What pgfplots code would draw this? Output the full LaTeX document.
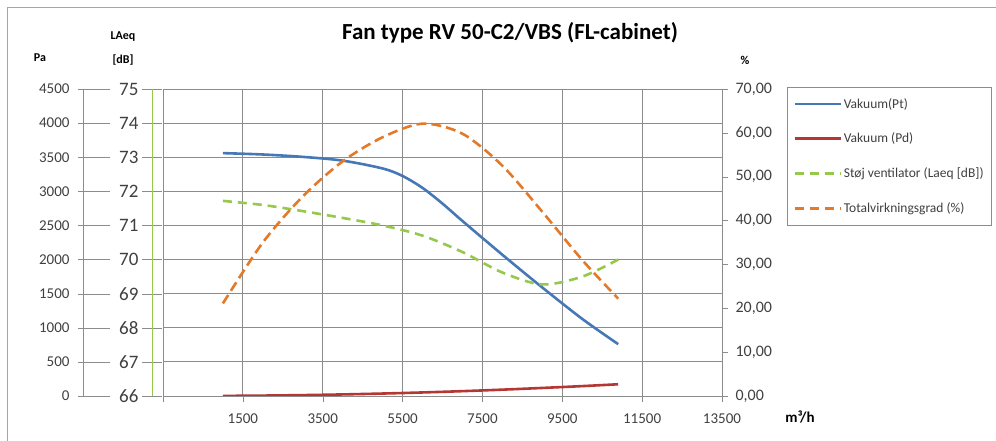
\documentclass[border=0pt]{standalone}
\usepackage{fontspec}
\setmainfont{Carlito}
\usepackage{pgfplots}
\pgfplotsset{compat=1.18}

\definecolor{xlblue}{RGB}{70,120,182}
\definecolor{xlred}{RGB}{180,55,52}
\definecolor{xlgreen}{RGB}{150,200,75}
\definecolor{xlorange}{RGB}{226,122,42}
\definecolor{gridgray}{RGB}{140,140,140}

\pgfplotsset{
  every axis/.append style={
    scale only axis, height=307pt, anchor=south west,
    scaled x ticks=false, scaled y ticks=false,
    /pgf/number format/assume math mode=true,
    /pgf/number format/1000 sep={},
  },
  tickfont/.style={font=\fontsize{15}{17}\selectfont},
}

\begin{document}
\begin{tikzpicture}
\useasboundingbox (0pt,0pt) rectangle (996pt,441pt);
\draw[gray!70, line width=1pt] (7pt,0pt) -- (7pt,433pt) -- (996pt,433pt);

% title and axis captions
\node[font=\fontsize{23}{25}\selectfont\bfseries] at (510pt,408pt) {Fan type RV 50-C2/VBS (FL-cabinet)};
\node[font=\fontsize{12}{13}\selectfont\bfseries] at (40pt,383pt) {Pa};
\node[font=\fontsize{12}{13}\selectfont\bfseries] at (123pt,404pt) {LAeq};
\node[font=\fontsize{12}{13}\selectfont\bfseries] at (123pt,381pt) {[dB]};
\node[font=\fontsize{12}{13}\selectfont\bfseries] at (745pt,381pt) {\%};
\node[font=\fontsize{15}{16}\selectfont\bfseries] at (800pt,24pt) {m³/h};

% Pa scale (labels only)
\begin{axis}[
  at={(83pt,45pt)}, width=1pt,
  xmin=0, xmax=1, ymin=0, ymax=4500,
  hide x axis, axis y line*=left,
  axis line style={gridgray},
  ytick={0,500,...,4500},
  tick align=inside, major tick length=32pt,
  y tick style={gridgray, xshift=-5pt},
  tickfont, yticklabel style={xshift=-10pt, text=black!75},
]
\end{axis}

% LAeq scale (labels only)
\begin{axis}[
  at={(152pt,45pt)}, width=1pt,
  xmin=0, xmax=1, ymin=66, ymax=75,
  hide x axis, axis y line*=left,
  axis line style={xlgreen, line width=1pt},
  ytick={66,67,...,75},
  tick align=center, major tick length=20pt,
  y tick style={gridgray},
  font=\fontsize{19}{20}\selectfont, yticklabel style={text=black!75},
]
\end{axis}

% main axis: Pa
\begin{axis}[
  at={(163pt,45pt)}, width=559pt,
  xmin=-500, xmax=13500, ymin=0, ymax=4500,
  axis x line*=bottom, axis y line*=left,
  axis line style={gridgray},
  xtick={-500,1500,3500,5500,7500,9500,11500,13500},
  xticklabels={,1500,3500,5500,7500,9500,11500,13500},
  ytick={0,500,...,4500}, yticklabels={},
  grid=major, grid style={gridgray, line width=0.8pt},
  tick align=outside, major tick length=6pt,
  x tick style={gridgray}, y tick style={draw=none},
  tickfont, xticklabel style={text=black!75, yshift=-8pt},
]
\addplot[xlblue, line width=2.6pt, smooth] coordinates {
  (1000,3560) (2000,3540) (3000,3505) (4000,3450) (5000,3335) (5500,3225)
  (6000,3050) (6500,2820) (7000,2565) (8000,2070) (9000,1590) (10000,1130) (10900,760)};
\addplot[xlred, line width=2.6pt, smooth] coordinates {
  (1000,1.5) (2000,6) (3000,13) (4000,23) (5000,36) (6000,52)
  (7000,71) (8000,93) (9000,118) (10000,145) (10900,172)};
\end{axis}

% LAeq data
\begin{axis}[
  at={(163pt,45pt)}, width=559pt,
  xmin=-500, xmax=13500, ymin=66, ymax=75,
  hide axis,
]
\addplot[xlgreen, line width=2.6pt, smooth, dash pattern=on 9pt off 6pt] coordinates {
  (1000,71.72) (2000,71.6) (3000,71.42) (4000,71.22) (5000,71.0) (6000,70.7)
  (7000,70.22) (8000,69.62) (9000,69.27) (10000,69.5) (10900,70.0)};
\end{axis}

% efficiency (%) axis
\begin{axis}[
  at={(163pt,45pt)}, width=559pt,
  xmin=-500, xmax=13500, ymin=0, ymax=70,
  hide x axis, axis y line*=right,
  axis line style={gridgray},
  ytick={0,10,...,70},
  tick align=outside, major tick length=6pt,
  y tick style={gridgray},
  font=\fontsize{16}{18}\selectfont,
  yticklabel style={text=black!75, xshift=4pt, /pgf/number format/.cd, fixed, fixed zerofill, precision=2, use comma},
  legend style={at={(1.1163,1.0065)}, anchor=north west, draw=gridgray,
    font=\fontsize{13.5}{15}\selectfont, text=black!75,
    row sep=19.5pt, inner xsep=6pt, inner ysep=9pt},
  legend cell align=left,
  legend image code/.code={\draw[#1] (0pt,0pt) -- (46pt,0pt);},
]
\addlegendimage{xlblue, line width=2.6pt}
\addlegendentry{Vakuum(Pt)}
\addlegendimage{xlred, line width=2.6pt}
\addlegendentry{Vakuum (Pd)}
\addlegendimage{xlgreen, line width=2.6pt, dash pattern=on 9pt off 6pt}
\addlegendentry{Støj ventilator (Laeq [dB])}
\addlegendimage{xlorange, line width=2.6pt, dash pattern=on 9pt off 6pt}
\addlegendentry{Totalvirkningsgrad (\%)}
\addplot[xlorange, line width=2.6pt, smooth, dash pattern=on 10pt off 5pt] coordinates {
  (1000,21.1) (2000,35) (3000,45.5) (4000,53.5) (5000,59) (6000,62.1)
  (7000,59.8) (8000,52.5) (9000,42) (10000,31) (10900,22.2)};
\end{axis}
\end{tikzpicture}
\end{document}
